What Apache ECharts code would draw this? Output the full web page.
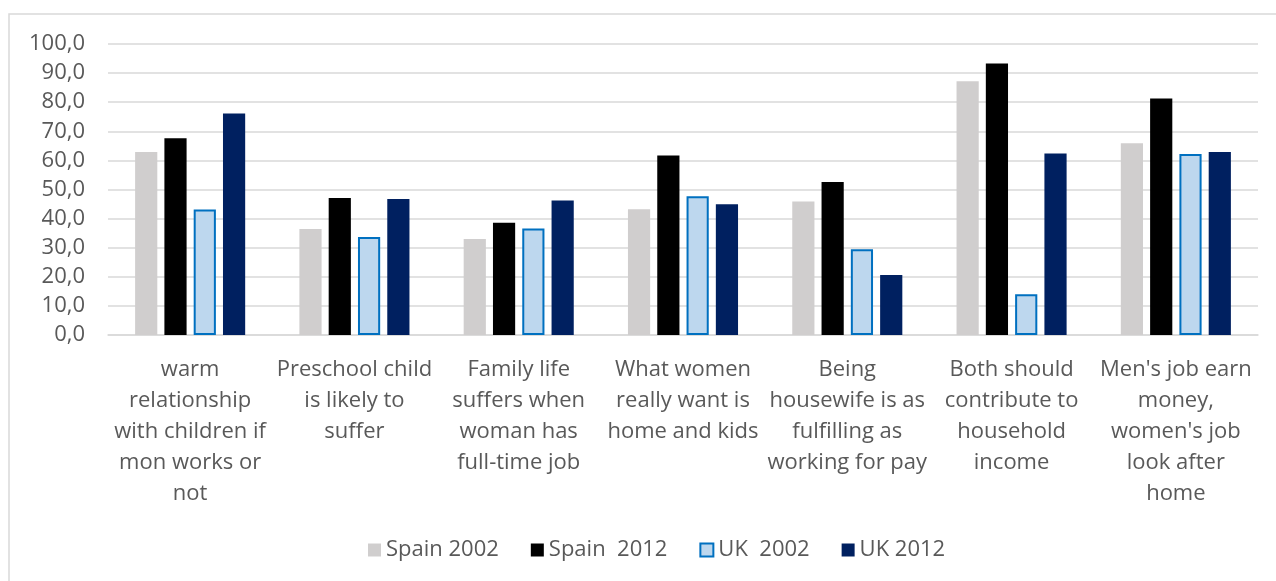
<!DOCTYPE html>
<html>
<head>
<meta charset="utf-8">
<script src="https://cdn.jsdelivr.net/npm/echarts@6/dist/echarts.min.js"></script>
<style>
  html, body { margin: 0; padding: 0; background: #fff; }
  #main { width: 1276px; height: 581px; }
</style>
</head>
<body>
<div id="main"></div>
<script>
var categories = [
    'warm\nrelationship\nwith children if\nmon works or\nnot',
    'Preschool child\nis likely to\nsuffer',
    'Family life\nsuffers when\nwoman has\nfull-time job',
    'What women\nreally want is\nhome and kids',
    'Being\nhousewife is as\nfulfilling as\nworking for pay',
    'Both should\ncontribute to\nhousehold\nincome',
    "Men's job earn\nmoney,\nwomen's job\nlook after\nhome"
];

var spain2002 = [62.9, 36.4, 33.0, 43.2, 45.9, 87.2, 65.9];
var spain2012 = [67.6, 47.1, 38.6, 61.7, 52.6, 93.3, 81.3];
var uk2002 = [43.1, 33.7, 36.6, 47.7, 29.5, 14.0, 62.2];
var uk2012 = [76.1, 46.7, 46.2, 44.9, 20.6, 62.4, 62.9];

var font = '"Open Sans", sans-serif';
var textColor = '#595959';

var myChart = echarts.init(document.getElementById('main'));

myChart.setOption({
    animation: false,
    textStyle: { fontFamily: font },
    graphic: [{
        type: 'rect',
        shape: { x: 9, y: 14, width: 1300, height: 600 },
        style: { fill: 'none', stroke: '#d9d9d9', lineWidth: 1.5 },
        silent: true
    }],
    legend: {
        top: 534,
        left: 363,
        icon: 'rect',
        itemWidth: 13,
        itemHeight: 13,
        itemGap: 32,
        textStyle: { fontSize: 22, color: textColor, fontFamily: font },
        data: ['Spain 2002', 'Spain  2012', 'UK  2002', 'UK 2012']
    },
    grid: { left: 108, right: 18, top: 44, bottom: 246, containLabel: false },
    xAxis: {
        type: 'category',
        data: categories,
        axisTick: { show: false },
        axisLine: { lineStyle: { color: '#d9d9d9', width: 1.5 } },
        axisLabel: {
            interval: 0,
            margin: 19,
            fontSize: 22,
            lineHeight: 31,
            color: textColor,
            fontFamily: font,
            verticalAlign: 'top'
        }
    },
    yAxis: {
        type: 'value',
        min: 0,
        max: 100,
        interval: 10,
        axisLine: { show: false },
        axisTick: { show: false },
        splitLine: { lineStyle: { color: '#d9d9d9', width: 1.5 } },
        axisLabel: {
            margin: 23,
            fontSize: 22,
            color: textColor,
            fontFamily: font,
            formatter: function (v) { return v.toFixed(1).replace('.', ','); }
        }
    },
    series: [
        {
            name: 'Spain 2002',
            type: 'bar',
            data: spain2002,
            barGap: '32%',
            barCategoryGap: '33%',
            itemStyle: { color: '#d0cece' }
        },
        {
            name: 'Spain  2012',
            type: 'bar',
            data: spain2012,
            itemStyle: { color: '#000000' }
        },
        {
            name: 'UK  2002',
            type: 'bar',
            data: uk2002,
            itemStyle: { color: '#bdd7ee', borderColor: '#0070c0', borderWidth: 2 }
        },
        {
            name: 'UK 2012',
            type: 'bar',
            data: uk2012,
            itemStyle: { color: '#002060' }
        }
    ]
});
</script>
</body>
</html>
